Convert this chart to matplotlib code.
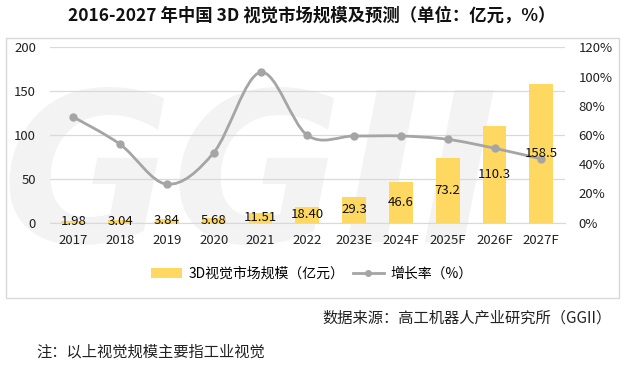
import matplotlib
matplotlib.use("Agg")
import matplotlib.pyplot as plt
from matplotlib.path import Path
from matplotlib.patches import PathPatch, Rectangle
from matplotlib.lines import Line2D
from matplotlib.ticker import FuncFormatter
import numpy as np

plt.rcParams['font.family'] = ['Noto Sans CJK SC', 'DejaVu Sans']

categories = ["2017", "2018", "2019", "2020", "2021", "2022", "2023E", "2024F", "2025F", "2026F", "2027F"]
market_size = [1.98, 3.04, 3.84, 5.68, 11.51, 18.40, 29.3, 46.6, 73.2, 110.3, 158.5]
size_labels = ["1.98", "3.04", "3.84", "5.68", "11.51", "18.40", "29.3", "46.6", "73.2", "110.3", "158.5"]
growth_rate = [72.3, 53.6, 26.3, 47.9, 102.9, 59.8, 59.3, 59.3, 57.0, 50.9, 43.6]

title = "2016-2027 年中国 3D 视觉市场规模及预测（单位：亿元，%）"
bar_name = "3D视觉市场规模（亿元）"
line_name = "增长率（%）"
source = "数据来源：高工机器人产业研究所（GGII）"
note = "注：以上视觉规模主要指工业视觉"

bar_color = "#FFD861"
line_color = "#A5A5A5"
grid_color = "#D9D9D9"

fig = plt.figure(figsize=(6.24, 3.68), dpi=100)
fig.patch.set_facecolor("white")

# chart frame
fig.patches.append(Rectangle((0.0096, 0.19), 0.982, 0.707, transform=fig.transFigure,
                             facecolor="white", edgecolor="#D9D9D9", linewidth=1.0, zorder=-2))

# watermark
fig.text(0.40, 0.50, "GGII", fontsize=150, fontweight="bold", style="italic",
         color="#F3F3F3", ha="center", va="center", zorder=-1, family="DejaVu Sans")

ax = fig.add_axes([0.080, 0.395, 0.825, 0.4765])
ax.set_zorder(1)
ax.patch.set_alpha(0)
x = np.arange(len(categories))
ax.bar(x, market_size, width=0.51, color=bar_color, zorder=2)
ax.set_xlim(-0.5, len(categories) - 0.5)
ax.set_ylim(0, 200)
ax.set_yticks([0, 50, 100, 150, 200])
ax.yaxis.grid(True, color=grid_color, linewidth=0.9, zorder=0)
ax.set_axisbelow(True)
for s in ["top", "right", "left"]:
    ax.spines[s].set_visible(False)
ax.spines["bottom"].set_color(grid_color)
ax.tick_params(axis="both", length=0, labelsize=9.5, colors="#222222")
ax.tick_params(axis="x", pad=8)
ax.tick_params(axis="y", pad=10)
ax.set_xticks(x)
ax.set_xticklabels(categories)

ax2 = ax.twinx()
ax2.set_zorder(2)
ax2.patch.set_alpha(0)
ax2.set_ylim(0, 120)
ax2.set_yticks(range(0, 121, 20))
ax2.yaxis.set_major_formatter(FuncFormatter(lambda v, p: f"{int(v)}%"))
for s in ["top", "right", "left", "bottom"]:
    ax2.spines[s].set_visible(False)
ax2.tick_params(axis="y", length=0, labelsize=9.5, colors="#222222", pad=10)

# smoothed line through growth points (Bezier through data points)
pts = np.column_stack([x, growth_rate]).astype(float)
n = len(pts)
verts = [tuple(pts[0])]
codes = [Path.MOVETO]
for i in range(n - 1):
    p0 = pts[i - 1] if i > 0 else pts[i]
    p1 = pts[i]
    p2 = pts[i + 1]
    p3 = pts[i + 2] if i + 2 < n else pts[i + 1]
    c1 = p1 + (p2 - p0) / 6.0
    c2 = p2 - (p3 - p1) / 6.0
    verts += [tuple(c1), tuple(c2), tuple(p2)]
    codes += [Path.CURVE4, Path.CURVE4, Path.CURVE4]
ax2.add_patch(PathPatch(Path(verts, codes), facecolor="none", edgecolor=line_color,
                        linewidth=2.0, zorder=3))
ax2.plot(x, growth_rate, linestyle="none", marker="o", markersize=5,
         color=line_color, zorder=4)

# data labels (centered on bars)
for xi, v, lab in zip(x, market_size, size_labels):
    ax2.text(xi, v / 2 * 120 / 200, lab, ha="center", va="center", fontsize=9.5,
             color="#111111", zorder=5)

# legend
handles = [Rectangle((0, 0), 1, 1, facecolor=bar_color, edgecolor="none"),
           Line2D([0], [0], color=line_color, linewidth=2, marker="o", markersize=4)]
fig.legend(handles, [bar_name, line_name], loc="center", bbox_to_anchor=(0.5, 0.255),
           ncol=2, frameon=False, fontsize=10, handlelength=2.2, handleheight=0.7,
           columnspacing=0.6, handletextpad=0.5)

fig.text(0.5, 0.958, title, ha="center", va="center", fontsize=12.5, fontweight="bold",
         color="#111111")
fig.text(0.981, 0.136, source, ha="right", va="center", fontsize=11, style="italic",
         color="#222222")
fig.text(0.058, 0.043, note, ha="left", va="center", fontsize=11, style="italic",
         color="#222222")

fig.savefig("out.png", dpi=100)
